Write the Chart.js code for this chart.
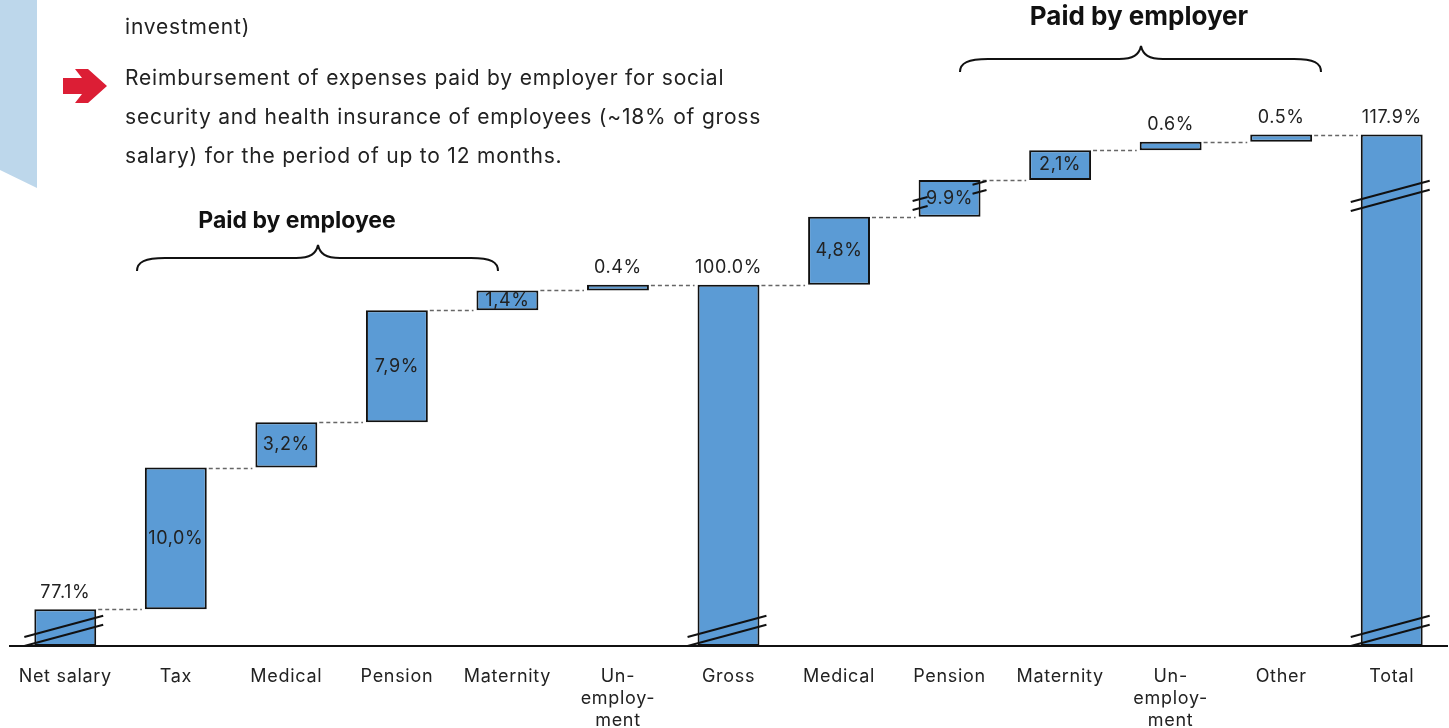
<!DOCTYPE html>
<html>
<head>
<meta charset="utf-8">
<script src="https://cdn.jsdelivr.net/npm/chart.js@4.4.0/dist/chart.umd.min.js"></script>
<style>
  html, body { margin: 0; padding: 0; background: #fff; overflow: hidden; }
  body { width: 1449px; height: 728px; position: relative; font-family: Inter, sans-serif; color: #222; }
  #chart { position: absolute; left: 0; top: 0; }
  #deco { position: absolute; left: 0; top: 0; }
  .note { position: absolute; left: 125px; font-size: 21px; line-height: 39px; white-space: nowrap; letter-spacing: 0.8px; }
  .head { position: absolute; font-weight: 700; line-height: 30px; white-space: nowrap; transform: translateX(-50%); color: #111; }
</style>
</head>
<body>
<svg id="deco" width="1449" height="728">
  <polygon points="0,0 37,0 37,188 0,170" fill="#bdd7eb" />
  <polygon points="63,78 82,78 75,69 88,69 107,86 88,103 75,103 82,94 63,94" fill="#dc1e35" />
  <path d="M137,271 C137,262 145,258 165,258 L296,258 C310,258 316,254 318,245 C320,254 326,258 340,258 L471,258 C491,258 498,262 498,271" fill="none" stroke="#111" stroke-width="2" />
  <path d="M960,72 C960,63 968,59 988,59 L1119,59 C1133,59 1139,55 1141,46 C1143,55 1149,59 1163,59 L1294,59 C1314,59 1321,63 1321,72" fill="none" stroke="#111" stroke-width="2" />
</svg>
<canvas id="chart" width="1449" height="744"></canvas>
<div class="note" style="top:7px">investment)</div>
<div class="note" style="top:58px">Reimbursement of expenses paid by employer for social<br>security and health insurance of employees (~18% of gross<br>salary) for the period of up to 12 months.</div>
<div class="head" style="left:297px; top:205px; font-size:23px">Paid by employee</div>
<div class="head" style="left:1139px; top:1px; font-size:26px">Paid by employer</div>
<script>
const categories = ['Net salary', 'Tax', 'Medical', 'Pension', 'Maternity', ['Un-', 'employ-', 'ment'],
  'Gross', 'Medical', 'Pension', 'Maternity', ['Un-', 'employ-', 'ment'], 'Other', 'Total'];
const values = [77.1, 10.0, 3.2, 7.9, 1.4, 0.4, 100.0, 4.8, 9.9, 2.1, 0.6, 0.5, 117.9];
const barKinds = ['total', 'step', 'step', 'step', 'step', 'step', 'total', 'step', 'step', 'step', 'step', 'step', 'total'];
const valueLabels = ['77.1%', '10,0%', '3,2%', '7,9%', '1,4%', '0.4%', '100.0%', '4,8%', '9.9%', '2,1%', '0.6%', '0.5%', '117.9%'];
const labelPlaces = ['above', 'inside', 'inside', 'inside', 'inside', 'above', 'above', 'inside', 'inside', 'inside', 'above', 'above', 'above'];
// part of each bar that is cut away by an axis break (percentage points)
const breakCuts = [74.5, 0, 0, 0, 0, 0, 0, 0, 7.3, 0, 0, 0, 0];
// where the break marks sit, in the shortened scale
const breakMarks = [
  { level: 1.1, bars: [0, 6, 12], edgesOnly: false },
  { level: 31.8, bars: [12], edgesOnly: false },
  { level: 31.8, bars: [8], edgesOnly: true }
];

// waterfall: turn steps into floating bars, minus the broken-out parts
let cut = 0, level = 0;
const ranges = values.map((v, i) => {
  cut += breakCuts[i];
  if (barKinds[i] === 'total') {
    level = v - cut;
    return [0, level];
  }
  const start = level;
  level = start + v - breakCuts[i];
  return [start, level];
});

const waterfallExtras = {
  id: 'waterfallExtras',
  beforeDraw(chart) {
    chart.ctx.letterSpacing = '0.7px';
  },
  afterDatasetsDraw(chart) {
    const ctx = chart.ctx;
    const y = chart.scales.y;
    const bars = chart.getDatasetMeta(0).data;

    // dashed connectors
    ctx.save();
    ctx.strokeStyle = '#666';
    ctx.lineWidth = 1.3;
    ctx.setLineDash([4, 3]);
    for (let i = 0; i < bars.length - 1; i++) {
      const a = bars[i], b = bars[i + 1];
      const py = Math.round(y.getPixelForValue(ranges[i][1])) + 0.5;
      ctx.beginPath();
      ctx.moveTo(a.x + a.width / 2 + 2, py);
      ctx.lineTo(b.x - b.width / 2 - 3, py);
      ctx.stroke();
    }
    ctx.restore();

    // axis break marks
    ctx.save();
    ctx.strokeStyle = '#111';
    ctx.lineWidth = 2;
    const slope = 0.27;
    breakMarks.forEach(m => {
      const cy = y.getPixelForValue(m.level);
      m.bars.forEach(i => {
        const bar = bars[i];
        const left = bar.x - bar.width / 2, right = bar.x + bar.width / 2;
        [-4.5, 4.5].forEach(off => {
          const yAt = x => cy + off - (x - bar.x) * slope;
          ctx.beginPath();
          if (m.edgesOnly) {
            ctx.moveTo(left - 6, yAt(left - 6)); ctx.lineTo(left + 9, yAt(left + 9));
            ctx.moveTo(right - 8, yAt(right - 8)); ctx.lineTo(right + 6, yAt(right + 6));
          } else {
            ctx.moveTo(left - 10, yAt(left - 10)); ctx.lineTo(right + 7, yAt(right + 7));
          }
          ctx.stroke();
        });
      });
    });
    ctx.restore();

    // value labels
    ctx.save();
    ctx.fillStyle = '#222';
    ctx.font = '18px Inter, sans-serif';
    ctx.letterSpacing = '0.6px';
    ctx.textAlign = 'center';
    ctx.textBaseline = 'middle';
    bars.forEach((bar, i) => {
      const top = y.getPixelForValue(ranges[i][1]);
      const bottom = y.getPixelForValue(ranges[i][0]);
      const ty = labelPlaces[i] === 'above' ? top - 17 : (top + bottom) / 2;
      ctx.fillText(valueLabels[i], bar.x, ty);
    });
    ctx.restore();
  }
};

Chart.defaults.font.family = 'Inter, sans-serif';
Chart.defaults.color = '#222';

new Chart(document.getElementById('chart'), {
  type: 'bar',
  data: {
    labels: categories,
    datasets: [{
      data: ranges,
      backgroundColor: '#5b9bd5',
      borderColor: '#111',
      borderWidth: 2,
      borderSkipped: false,
      barPercentage: 0.56,
      categoryPercentage: 1
    }]
  },
  options: {
    responsive: false,
    animation: false,
    devicePixelRatio: 1,
    layout: { padding: { left: 10, right: 2, top: 0, bottom: 0 } },
    plugins: { legend: { display: false }, tooltip: { enabled: false } },
    scales: {
      x: {
        grid: { display: false },
        border: { display: true, color: '#111', width: 2 },
        ticks: { padding: 12, font: { size: 18, lineHeight: '22px' }, color: '#222', maxRotation: 0, autoSkip: false }
      },
      y: { display: false, min: 0, max: 45.6 }
    }
  },
  plugins: [waterfallExtras]
});
</script>
</body>
</html>
